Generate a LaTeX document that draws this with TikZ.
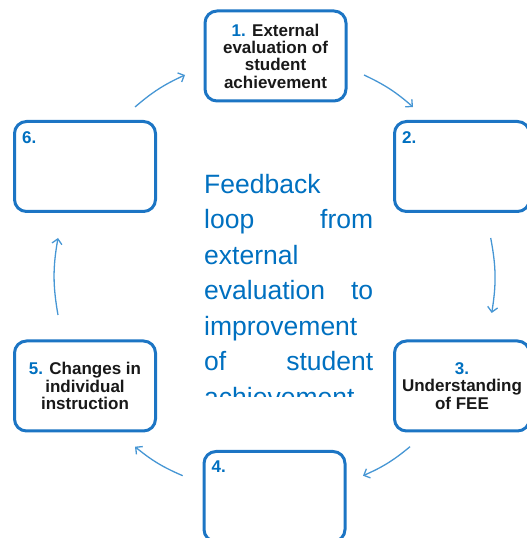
\documentclass[tikz,border=0pt]{standalone}
\usepackage{fontspec}
\setmainfont{Liberation Sans}
\usetikzlibrary{arrows.meta, positioning, calc}
\definecolor{loopblue}{RGB}{0, 112, 192}
\definecolor{frameblue}{RGB}{28, 117, 196}
\definecolor{arrowblue}{RGB}{70, 150, 212}

\newcommand{\spreadline}[2]{\makebox[169pt][l]{#1\hfill #2}}

\tikzset{
  stagebox/.style={draw=frameblue, line width=3pt, rounded corners=12pt, fill=white,
    minimum width=141pt, minimum height=90pt, align=center, inner sep=0pt,
    font=\bfseries\fontsize{17}{17.3}\selectfont, text=black!90},
  stagenum/.style={inner sep=0pt, text=loopblue, font=\bfseries\fontsize{17}{17.3}\selectfont},
  looparrow/.style={draw=arrowblue, line width=1.3pt, -{Straight Barb[length=5pt, width=10pt]}, bend left=#1},
}

\begin{document}
\begin{tikzpicture}[x=1pt, y=1pt]
  \useasboundingbox (0,0) rectangle (527,538);
  \clip (0,0) rectangle (527,538);

  % Stages round the loop
  \node[stagebox] (st1) at (275.5, 482) {\textcolor{loopblue}{1.} External\\evaluation of\\student\\achievement};
  \node[stagebox, minimum width=135pt] (st2) at (462, 371.5) {};
  \node[stagebox, minimum width=135pt] (st3) at (462, 152) {\textcolor{loopblue}{3.}\\Understanding\\of FEE};
  \node[stagebox] (st4) at (274.5, 41.5) {};
  \node[stagebox] (st5) at (85, 152) {\textcolor{loopblue}{5.} Changes in\\individual\\instruction};
  \node[stagebox] (st6) at (85, 371.5) {};

  % Numbers in the empty boxes
  \node[stagenum, below right=11pt and 9pt of st2.north west] (num2) {2.};
  \node[stagenum, below right=11pt and 9pt of st4.north west] (num4) {4.};
  \node[stagenum, below right=11pt and 9pt of st6.north west] (num6) {6.};

  % Caption in the middle, cut off at the bottom
  \begin{scope}
    \clip (190, 141.3) rectangle (390, 400);
    \node[anchor=north west, inner sep=0pt, text width=169pt, align=left, text=loopblue,
      font=\fontsize{26.5}{35.5}\selectfont] (caption) at (204, 364) {
      Feedback\\
      \spreadline{loop}{from}\\
      external\\
      \spreadline{evaluation}{to}\\
      improvement\\
      \spreadline{of}{student}\\
      achievement
    };
  \end{scope}

  % Arrow ends
  \coordinate (out6) at (135, 431);
  \coordinate (in1) at (185, 463);
  \coordinate (out1) at (364, 463);
  \coordinate (in2) at (413, 431);
  \coordinate (out2) at (490.7, 300);
  \coordinate (in3) at (491.7, 225);
  \coordinate (out3) at (410, 91.3);
  \coordinate (in4) at (363, 62.3);
  \coordinate (out4) at (182.7, 62.3);
  \coordinate (in5) at (135, 91.3);
  \coordinate (out5) at (58, 223);
  \coordinate (in6) at (58, 300);

  % Arrows
  \draw[looparrow=8] (out6) to (in1);
  \draw[looparrow=8] (out1) to (in2);
  \draw[looparrow=10] (out2) to (in3);
  \draw[looparrow=8] (out3) to (in4);
  \draw[looparrow=8] (out4) to (in5);
  \draw[looparrow=10] (out5) to (in6);
\end{tikzpicture}
\end{document}
